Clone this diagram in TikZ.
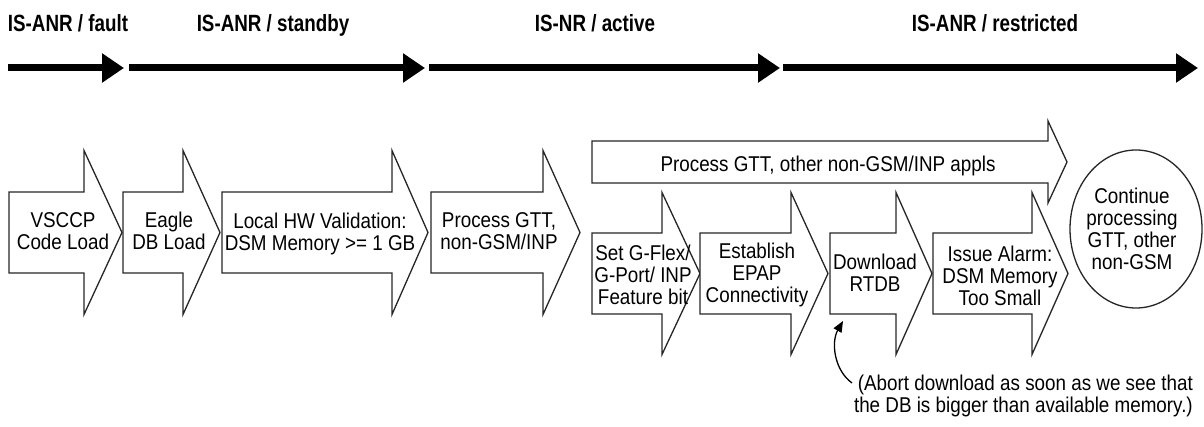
\documentclass[tikz,border=0pt]{standalone}
\usepackage{fontspec}
\setmainfont{Liberation Sans}[FakeStretch=0.88]
\newfontfamily\lblfont{Liberation Sans}[FakeStretch=0.80]
\usetikzlibrary{arrows.meta,shapes.geometric}
\tikzset{
  lbl/.style={font=\lblfont\bfseries\fontsize{23.5}{24}\selectfont, inner sep=0pt, anchor=base},
  txt/.style={font=\fontsize{21.4}{22}\selectfont, align=center, inner sep=0pt, anchor=base},
  shp/.style={draw=black!85, line width=1.3pt, fill=white, line join=miter},
  tline/.style={line width=7pt, -{Triangle[length=22pt,width=28pt]}},
  noteline/.style={line width=1.3pt, -{Triangle[length=11pt,width=9pt]}},
}
% #1 left, #2 head base, #3 tip, #4 centre y, #5 body half height, #6 head half height
\newcommand\bigarrowshape[6]{%
  \draw[shp] ({#1},{#4-#5}) -- ({#2},{#4-#5}) -- ({#2},{#4-#6}) -- ({#3},{#4})
    -- ({#2},{#4+#6}) -- ({#2},{#4+#5}) -- ({#1},{#4+#5}) -- cycle;}
\begin{document}
\begin{tikzpicture}[x=1pt,y=-1pt]
\useasboundingbox (0,0) rectangle (1204,427);

% state labels
\node[lbl] (s1) at (68,32) {IS-ANR / fault};
\node[lbl] (s2) at (273,32) {IS-ANR / standby};
\node[lbl] (s3) at (595,32) {IS-NR / active};
\node[lbl] (s4) at (995,32) {IS-ANR / restricted};

% timeline
\coordinate (a0) at (8,68);   \coordinate (a1) at (124,68);
\coordinate (b0) at (129,68); \coordinate (b1) at (425,68);
\coordinate (c0) at (429,68); \coordinate (c1) at (780,68);
\coordinate (d0) at (783,68); \coordinate (d1) at (1198,68);
\draw[tline] (a0) -- (a1);
\draw[tline] (b0) -- (b1);
\draw[tline] (c0) -- (c1);
\draw[tline] (d0) -- (d1);

% row 1 (node position = baseline of last line)
\bigarrowshape{9}{84}{122}{232.5}{40.5}{82}
\node[txt] (n1) at (63,250) {VSCCP\\Code Load};
\bigarrowshape{123}{183}{220}{232.5}{40.5}{82}
\node[txt] (n2) at (169,250) {Eagle\\DB Load};
\bigarrowshape{222}{392}{428}{232.5}{40.5}{82}
\node[txt] (n3) at (320,251) {Local HW Validation:\\DSM Memory >= 1 GB};
\bigarrowshape{431}{543}{580}{232.5}{40.5}{82}
\node[txt] (n4) at (499,250) {Process GTT,\\non-GSM/INP};

% long arrow
\bigarrowshape{592}{1048}{1067}{162}{21}{41}
\node[txt] (top) at (828,172) {Process GTT, other non-GSM/INP appls};

% row 2
\bigarrowshape{592}{662}{700}{273.5}{40.5}{81}
\node[txt] (n5) at (643,305) {Set G-Flex/\\G-Port/ INP\\Feature bit};
\bigarrowshape{700}{791}{828}{273.5}{40.5}{81}
\node[txt] (n6) at (757,303) {Establish\\EPAP\\Connectivity};
\bigarrowshape{830}{896}{932}{273.5}{40.5}{81}
\node[txt] (n7) at (875,292) {Download\\RTDB};
\bigarrowshape{933}{1032}{1068}{273.5}{40.5}{81}
\node[txt] (n8) at (1000,306) {Issue Alarm:\\DSM Memory\\Too Small};

% circle
\node[ellipse, draw=black!85, line width=1.3pt, minimum width=132pt, minimum height=158pt, inner sep=0pt] (circ) at (1136,229) {};
\node[txt] (ctext) at (1132,270) {Continue\\processing\\GTT, other\\non-GSM};

% note
\node[txt, anchor=base east, align=right] (note) at (1193,412) {(Abort download as soon as we see that\\the DB is bigger than available memory.)};
\coordinate (ns) at (852,383);
\coordinate (corner7) at (843,321);
\draw[noteline] (ns) .. controls (834,370) and (831,342) .. (corner7);
\end{tikzpicture}
\end{document}
